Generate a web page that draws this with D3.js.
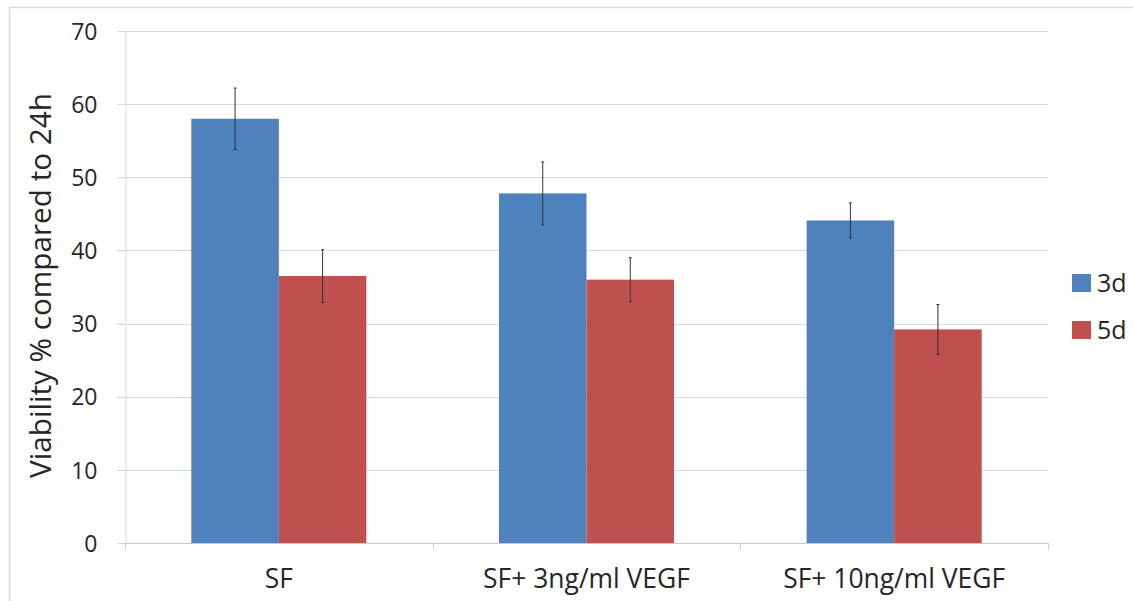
<!DOCTYPE html>
<html>
<head>
<meta charset="utf-8">
<script src="https://cdn.jsdelivr.net/npm/d3@7"></script>
<style>
  html, body { margin: 0; padding: 0; background: #fff; }
  svg { display: block; font-family: "Open Sans", "Noto Sans", sans-serif; }
</style>
</head>
<body>
<svg id="chart" width="1133" height="601"></svg>
<script>
const categories = ["SF", "SF+ 3ng/ml VEGF", "SF+ 10ng/ml VEGF"];
const seriesNames = ["3d", "5d"];
const values3d = [58.0, 47.8, 44.1];
const values5d = [36.5, 36.0, 29.2];
const errors3d = [4.2, 4.3, 2.4];
const errors5d = [3.6, 3.0, 3.4];
const yTicks = [0, 10, 20, 30, 40, 50, 60, 70];
const yTitle = "Viability % compared to 24h";
const colors = ["#4F81BD", "#C0504D"];

(function () {
const svg = d3.select("#chart");
const plotLeft = 125, plotRight = 1048, plotTop = 31, plotBottom = 543;
const textColor = "#262626";

// outer frame
svg.append("rect").attr("x", 9.5).attr("y", 7.5).attr("width", 1200).attr("height", 700)
  .attr("fill", "none").attr("stroke", "#d9d9d9").attr("stroke-width", 1.5);

const y = d3.scaleLinear().domain([0, 70]).range([plotBottom, plotTop]);
const x = d3.scaleBand().domain(categories).range([plotLeft, plotRight]).paddingInner(0.431).paddingOuter(0.2155);
const xs = d3.scaleBand().domain(seriesNames).range([0, x.bandwidth()]);

// gridlines
svg.append("g").selectAll("line").data(yTicks.filter(t => t > 0)).join("line")
  .attr("x1", plotLeft - 8).attr("x2", plotRight)
  .attr("y1", d => Math.round(y(d)) + 0.5).attr("y2", d => Math.round(y(d)) + 0.5)
  .attr("stroke", "#d9d9d9").attr("stroke-width", 1.2);

// y axis
const yAxis = d3.axisLeft(y).tickValues(yTicks).tickSize(8).tickPadding(20);
const gy = svg.append("g").attr("transform", `translate(${plotLeft + 0.5},0)`).call(yAxis);
gy.select(".domain").attr("stroke", "#d9d9d9");
gy.selectAll(".tick line").attr("stroke", "#d9d9d9");
gy.selectAll(".tick text").attr("font-size", 23).attr("fill", textColor)
  .attr("font-family", "Open Sans").attr("dy", "0.36em");

// x axis
const bounds = [plotLeft, ...categories.map(c => x(c) + x.bandwidth() + x.step() * x.paddingInner() / 2)];
const gx = svg.append("g");
gx.append("line").attr("x1", plotLeft).attr("x2", plotRight + 1)
  .attr("y1", Math.round(plotBottom) + 0.5).attr("y2", Math.round(plotBottom) + 0.5)
  .attr("stroke", "#c8c8c8").attr("stroke-width", 1.2);
gx.selectAll("line.tk").data(bounds).join("line").attr("class", "tk")
  .attr("x1", d => Math.round(d) + 0.5).attr("x2", d => Math.round(d) + 0.5)
  .attr("y1", plotBottom).attr("y2", plotBottom + 7).attr("stroke", "#d0d0d0");
const xl = gx.selectAll("text").data(categories).join("text")
  .attr("x", d => x(d) + x.bandwidth() / 2).attr("y", 588)
  .attr("text-anchor", "middle").attr("font-size", 25).attr("fill", textColor)
  .text(d => d);
// fit label size to the reference width of the middle label
const midLen = xl.filter((d, i) => i === 1).node().getComputedTextLength();
const xFont = Math.min(27, 25 * 207 / midLen);
xl.attr("font-size", xFont);

// bars
const data = categories.map((c, i) => ({ c, vals: [
  { s: "3d", v: values3d[i], e: errors3d[i], col: colors[0] },
  { s: "5d", v: values5d[i], e: errors5d[i], col: colors[1] } ] }));

const groups = svg.append("g").selectAll("g").data(data).join("g")
  .attr("transform", d => `translate(${x(d.c)},0)`);
groups.selectAll("rect").data(d => d.vals).join("rect")
  .attr("x", d => xs(d.s)).attr("width", xs.bandwidth())
  .attr("y", d => y(d.v)).attr("height", d => y(0) - y(d.v))
  .attr("fill", d => d.col);
groups.selectAll("line.err").data(d => d.vals).join("line").attr("class", "err")
  .attr("x1", d => xs(d.s) + xs.bandwidth() / 2).attr("x2", d => xs(d.s) + xs.bandwidth() / 2)
  .attr("y1", d => y(d.v + d.e)).attr("y2", d => y(d.v - d.e))
  .attr("stroke", "#333").attr("stroke-width", 1);
groups.selectAll("line.cap1").data(d => d.vals).join("line").attr("class", "cap1")
  .attr("x1", d => xs(d.s) + xs.bandwidth() / 2 - 1.5).attr("x2", d => xs(d.s) + xs.bandwidth() / 2 + 1.5)
  .attr("y1", d => y(d.v + d.e)).attr("y2", d => y(d.v + d.e))
  .attr("stroke", "#333").attr("stroke-width", 1);
groups.selectAll("line.cap2").data(d => d.vals).join("line").attr("class", "cap2")
  .attr("x1", d => xs(d.s) + xs.bandwidth() / 2 - 1.5).attr("x2", d => xs(d.s) + xs.bandwidth() / 2 + 1.5)
  .attr("y1", d => y(d.v - d.e)).attr("y2", d => y(d.v - d.e))
  .attr("stroke", "#333").attr("stroke-width", 1);

// y title
const title = svg.append("text")
  .attr("transform", `translate(51,${(478 + 93) / 2}) rotate(-90)`)
  .attr("text-anchor", "middle").attr("font-size", 24).attr("fill", textColor)
  .text(yTitle);
const tl = title.node().getComputedTextLength();
title.attr("font-size", 24 * 385 / tl);

// legend
const legend = svg.append("g").selectAll("g").data(seriesNames).join("g")
  .attr("transform", (d, i) => `translate(1072,${274 + i * 47})`);
legend.append("rect").attr("width", 19).attr("height", 18).attr("fill", (d, i) => colors[i]);
legend.append("text").attr("x", 25).attr("y", 9).attr("dy", "0.36em")
  .attr("font-size", 25).attr("fill", textColor).text(d => d);
})();
</script>
</body>
</html>
